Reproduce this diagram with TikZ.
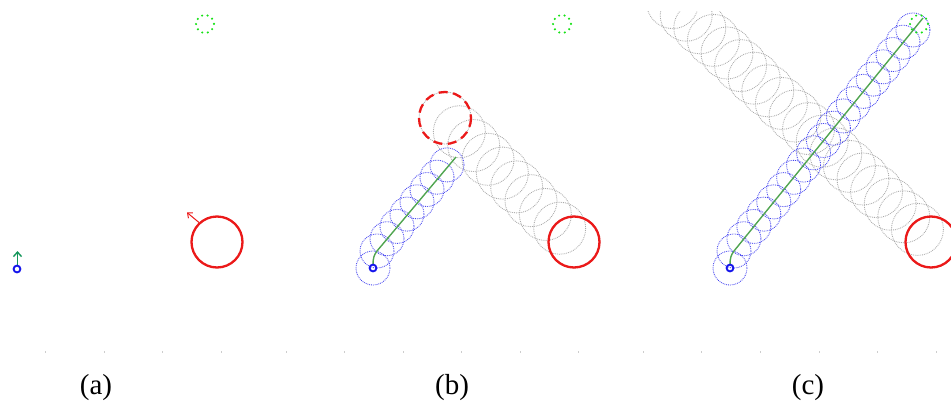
\documentclass[tikz,border=0pt]{standalone}
\usepackage{fontspec}
\setmainfont{Liberation Serif}
\usetikzlibrary{arrows.meta,calc}
\definecolor{tgreen}{RGB}{20,225,20}
\definecolor{pgreen}{RGB}{80,165,80}
\definecolor{cblue}{RGB}{70,70,240}
\definecolor{sblue}{RGB}{20,20,235}
\definecolor{cgray}{RGB}{170,170,170}
\definecolor{cred}{RGB}{235,25,25}
\definecolor{agreen}{RGB}{20,150,90}
\definecolor{tickgray}{RGB}{205,205,205}
\begin{document}
\begin{tikzpicture}[x=1pt,y=-1pt,
  target/.style={tgreen, line width=2.3pt, dash pattern=on 0pt off 5.6pt, line cap=round},
  obst/.style={cred, line width=2.3pt},
  obstdash/.style={cred, line width=2.3pt, dash pattern=on 9pt off 5.5pt},
  startc/.style={sblue, line width=1.9pt},
  bluec/.style={cblue, line width=0.85pt, dash pattern=on 0.85pt off 1pt},
  grayc/.style={cgray, line width=0.85pt, dash pattern=on 0.85pt off 1pt},
  pathline/.style={pgreen, line width=1.4pt},
  tickmark/.style={tickgray, line width=0.6pt},
  lbl/.style={font=\fontsize{29}{32}\selectfont, inner sep=0pt}]
\useasboundingbox (0,0) rectangle (951,407);

% ---------- ticks ----------
\foreach \t in {45.5,104,162.5,221,286,344.5,403,461,520,578,643,701,760,819,877,936}
  \draw[tickmark] (\t,351) -- (\t,353);

% ---------- panel (a) ----------
\coordinate (tA) at (205,24);
\coordinate (oA) at (217,242);
\coordinate (sA) at (17,269);
\coordinate (aA1) at (17.5,264.5);
\coordinate (aA2) at (17.5,251);
\coordinate (rA1) at (199,222.5);
\coordinate (rA2) at (187,212.5);
\draw[target] (tA) circle (9);
\draw[obst] (oA) circle (25.5);
\draw[cred, line width=1pt, -{Straight Barb[length=4pt,width=7pt]}] (rA1) -- (rA2);
\draw[agreen, line width=1.4pt, -{Straight Barb[length=4.5pt,width=8pt]}] (aA1) -- (aA2);
\draw[startc] (sA) circle (3.4);

% ---------- panel (b) ----------
\coordinate (tB) at (562,24);
\coordinate (oB) at (574,242);
\coordinate (dB) at (445,118);
\coordinate (sB) at (373,268);
\foreach \i in {0,...,9}
  \draw[grayc] ($(oB)+(-14.33*\i,-13.78*\i)$) circle (26);
\draw[bluec] (sB) circle (17);
\foreach \i in {0,...,7}
  \draw[bluec] (377+10*\i,251-12.3*\i) circle (17);
\draw[pathline] (373,265) .. controls (373,258) and (374,255) .. (377,251) -- (456,157);
\draw[target] (tB) circle (9);
\draw[obstdash] (dB) circle (26);
\draw[obst] (oB) circle (25.5);
\draw[startc] (sB) circle (3.4);

% ---------- panel (c) ----------
\begin{scope}
\clip (640,11) rectangle (951,300);
\coordinate (tC) at (919,24);
\coordinate (oC) at (931,242);
\coordinate (sC) at (730,268);
\foreach \i in {0,...,19}
  \draw[grayc] ($(oC)+(-13.6*\i,-12.6*\i)$) circle (26);
\draw[bluec] (sC) circle (17);
\foreach \i in {0,...,18}
  \draw[bluec] (734+9.94*\i,251-12.28*\i) circle (17);
\draw[pathline] (730,265) .. controls (730,258) and (731,255) .. (734,251) -- (923,18);
\draw[target] (tC) circle (9);
\draw[obst] (oC) circle (25.5);
\draw[startc] (sC) circle (3.4);
\end{scope}

% ---------- labels ----------
\node[lbl] (la) at (96,388) {(a)};
\node[lbl] (lb) at (452,388) {(b)};
\node[lbl] (lc) at (808,388) {(c)};
\end{tikzpicture}
\end{document}
